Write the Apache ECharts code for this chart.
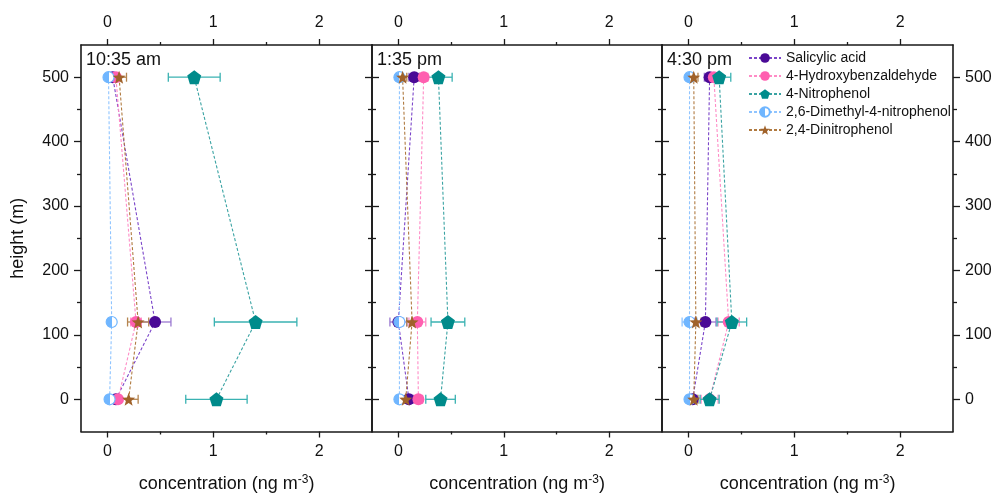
<!DOCTYPE html>
<html>
<head>
<meta charset="utf-8">
<script src="https://cdn.jsdelivr.net/npm/echarts@6/dist/echarts.min.js"></script>
<style>
  html, body { margin: 0; padding: 0; background: #fff; }
  #chart { width: 996px; height: 498px; }
</style>
</head>
<body>
<div id="chart"></div>
<script>
// heights of the samples (m)
const heights = [0, 120, 500];
const panelTitles = ['10:35 am', '1:35 pm', '4:30 pm'];
const compounds = ['Salicylic acid', '4-Hydroxybenzaldehyde', '4-Nitrophenol', '2,6-Dimethyl-4-nitrophenol', '2,4-Dinitrophenol'];
const xTicks = [0, 1, 2];
const xMinorTicks = [0.5, 1.5];
const yTicks = [0, 100, 200, 300, 400, 500];
const yMinorTicks = [50, 150, 250, 350, 450];

// concentration at heights 0 / 120 / 500 m, one row per compound
const conc1035 = [
  [0.08, 0.45, 0.05],
  [0.10, 0.27, 0.08],
  [1.03, 1.40, 0.82],
  [0.02, 0.04, 0.01],
  [0.20, 0.29, 0.11]
];
const err1035 = [
  [0.04, 0.15, 0.04],
  [0.03, 0.05, 0.03],
  [0.29, 0.39, 0.245],
  [0.03, 0.03, 0.02],
  [0.09, 0.10, 0.07]
];
const conc135 = [
  [0.10, 0.00, 0.15],
  [0.19, 0.18, 0.24],
  [0.40, 0.47, 0.38],
  [0.01, 0.01, 0.01],
  [0.07, 0.13, 0.04]
];
const err135 = [
  [0.04, 0.08, 0.05],
  [0.04, 0.08, 0.04],
  [0.14, 0.16, 0.13],
  [0.03, 0.04, 0.03],
  [0.04, 0.05, 0.04]
];
const conc430 = [
  [0.04, 0.16, 0.20],
  [0.20, 0.38, 0.24],
  [0.20, 0.41, 0.29],
  [0.01, 0.01, 0.01],
  [0.05, 0.07, 0.05]
];
const err430 = [
  [0.04, 0.10, 0.05],
  [0.08, 0.10, 0.04],
  [0.09, 0.14, 0.11],
  [0.03, 0.07, 0.03],
  [0.04, 0.05, 0.04]
];

const panels = [
  { conc: conc1035, err: err1035 },
  { conc: conc135, err: err135 },
  { conc: conc430, err: err430 }
];

const FONT = 'Liberation Sans';
const pentagon = 'path://M0,-1 L0.951,-0.309 L0.588,0.809 L-0.588,0.809 L-0.951,-0.309 Z';
const star = 'path://M0,-1 L0.247,-0.34 L0.951,-0.309 L0.399,0.13 L0.588,0.809 L0,0.42 L-0.588,0.809 L-0.399,0.13 L-0.951,-0.309 L-0.247,-0.34 Z';

// marker / line / error bar styles per compound
const styles = [
  { symbol: 'circle', size: 12, color: '#4a0a96', line: '#7b45c9', errColor: '#9a78d0' },
  { symbol: 'circle', size: 12, color: '#ff5fb0', line: '#ff8cc6', errColor: '#ff8cc6' },
  { symbol: pentagon, size: 14, color: '#008b8b', line: '#3aa3a3', errColor: '#3ab2b2' },
  {
    symbol: 'circle', size: 11,
    color: { type: 'linear', x: 0, y: 0, x2: 1, y2: 0,
      colorStops: [{ offset: 0, color: '#70b6ff' }, { offset: 0.5, color: '#70b6ff' },
                   { offset: 0.5, color: '#ffffff' }, { offset: 1, color: '#ffffff' }] },
    border: '#70b6ff', line: '#8fc4ff', errColor: '#8fc4ff'
  },
  { symbol: star, size: 13, color: '#a0622a', line: '#b07a40', errColor: '#b58550' }
];

const grids = [
  { left: 81, top: 45, width: 291, height: 389 },
  { left: 372, top: 45, width: 290, height: 389 },
  { left: 662, top: 45, width: 291, height: 389 }
];

const axisLineStyle = { color: '#1a1a1a', width: 1.6 };
const labelStyle = { fontFamily: FONT, fontSize: 16, color: '#111' };

let xAxes = [];
let yAxes = [];
grids.forEach((g, i) => {
  // bottom major, bottom minor, top major, top minor
  ['bottom', 'top'].forEach(pos => {
    xAxes.push({
      type: 'value', gridIndex: i, position: pos, min: -0.25, max: 2.5,
      axisLine: { show: true, onZero: false, lineStyle: axisLineStyle },
      axisTick: { show: true, customValues: xTicks, length: 6, lineStyle: { color: '#1a1a1a', width: 1.3 } },
      axisLabel: Object.assign({ show: true, customValues: xTicks, margin: pos === 'bottom' ? 12 : 14 }, labelStyle),
      splitLine: { show: false },
      name: pos === 'bottom' ? 'concentration (ng m{sup|-3})' : '',
      nameLocation: 'middle', nameGap: 42,
      nameTextStyle: {
        fontFamily: FONT, fontSize: 18, color: '#111',
        rich: { sup: { fontFamily: FONT, fontSize: 12, color: '#111', verticalAlign: 'top', padding: [0, 0, 9, 0] } }
      }
    });
    xAxes.push({
      type: 'value', gridIndex: i, position: pos, min: -0.25, max: 2.5,
      axisLine: { show: false, onZero: false },
      axisTick: { show: true, customValues: xMinorTicks, length: 3, lineStyle: { color: '#1a1a1a', width: 1.3 } },
      axisLabel: { show: false },
      splitLine: { show: false }
    });
  });
  ['left', 'right'].forEach(pos => {
    const outward = (pos === 'left' && i === 0) || (pos === 'right' && i === 2);
    const showLabel = outward;
    yAxes.push({
      type: 'value', gridIndex: i, position: pos, min: -50, max: 550,
      axisLine: { show: true, onZero: false, lineStyle: axisLineStyle },
      axisTick: { show: true, inside: !outward, customValues: yTicks, length: 7, lineStyle: { color: '#1a1a1a', width: 1.3 } },
      axisLabel: Object.assign({ show: showLabel, customValues: yTicks, margin: 12 }, labelStyle),
      splitLine: { show: false },
      name: (pos === 'left' && i === 0) ? 'height (m)' : '',
      nameLocation: 'middle', nameGap: 54,
      nameTextStyle: { fontFamily: FONT, fontSize: 18, color: '#111' }
    });
    yAxes.push({
      type: 'value', gridIndex: i, position: pos, min: -50, max: 550,
      axisLine: { show: false, onZero: false },
      axisTick: { show: true, inside: !outward, customValues: yMinorTicks, length: 4, lineStyle: { color: '#1a1a1a', width: 1.3 } },
      axisLabel: { show: false },
      splitLine: { show: false }
    });
  });
});

function errorBarRender(color) {
  return function (params, api) {
    const x = api.value(0), y = api.value(1), e = api.value(2);
    const a = api.coord([x - e, y]);
    const b = api.coord([x + e, y]);
    const st = { stroke: color, lineWidth: 1.3 };
    return {
      type: 'group',
      children: [
        { type: 'line', shape: { x1: a[0], y1: a[1], x2: b[0], y2: b[1] }, style: st },
        { type: 'line', shape: { x1: a[0], y1: a[1] - 4.5, x2: a[0], y2: a[1] + 4.5 }, style: st },
        { type: 'line', shape: { x1: b[0], y1: b[1] - 4.5, x2: b[0], y2: b[1] + 4.5 }, style: st }
      ]
    };
  };
}

let series = [];
panels.forEach((p, i) => {
  compounds.forEach((name, c) => {
    const s = styles[c];
    series.push({
      type: 'custom', xAxisIndex: i * 4, yAxisIndex: i * 4, z: 2,
      renderItem: errorBarRender(s.errColor),
      encode: { x: 0, y: 1 },
      data: heights.map((h, k) => [p.conc[c][k], h, p.err[c][k]]),
      silent: true
    });
  });
  compounds.forEach((name, c) => {
    const s = styles[c];
    series.push({
      type: 'line', name: name, xAxisIndex: i * 4, yAxisIndex: i * 4, z: 3,
      data: heights.map((h, k) => [p.conc[c][k], h]),
      symbol: s.symbol, symbolSize: s.size, showAllSymbol: true,
      lineStyle: { color: s.line, width: 1.1, type: [3, 2] },
      itemStyle: { color: s.color, borderColor: s.border || s.color, borderWidth: s.border ? 1.2 : 0, opacity: 1 },
      animation: false
    });
  });
});

const chart = echarts.init(document.getElementById('chart'), null, { renderer: 'canvas' });
chart.setOption({
  animation: false,
  backgroundColor: '#fff',
  title: panelTitles.map((t, i) => ({
    text: t, left: grids[i].left + 5, top: 51, padding: 0,
    textStyle: { fontFamily: FONT, fontSize: 18, fontWeight: 'normal', color: '#111' }
  })),
  legend: {
    orient: 'vertical', left: 743, top: 46,
    data: compounds,
    itemWidth: 32, itemHeight: 12, itemGap: 4,
    textStyle: { fontFamily: FONT, fontSize: 14, color: '#111' }
  },
  grid: grids,
  xAxis: xAxes,
  yAxis: yAxes,
  series: series
});
</script>
</body>
</html>
